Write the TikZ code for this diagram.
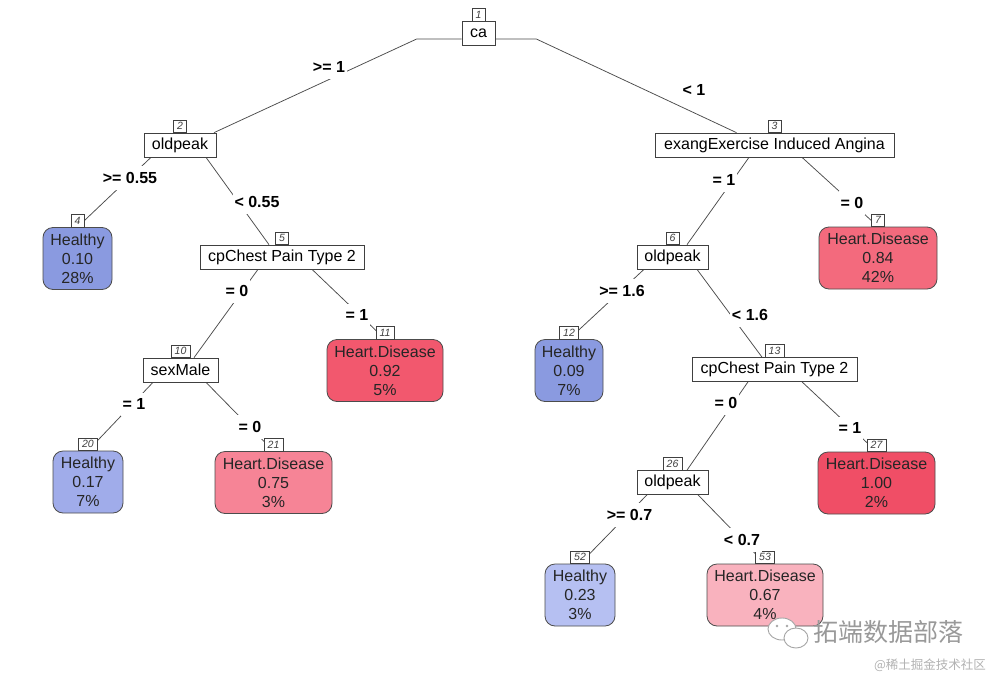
\documentclass[tikz,border=0pt]{standalone}
\usepackage{fontspec}
\setmainfont{Liberation Sans}
\newfontfamily\cjk{Noto Sans CJK SC}
\pgfdeclarelayer{bg}
\pgfsetlayers{bg,main}
\definecolor{hbA}{RGB}{138,154,224}
\definecolor{hbB}{RGB}{160,172,234}
\definecolor{hbC}{RGB}{182,192,242}
\definecolor{hdA}{RGB}{240,78,102}
\definecolor{hdB}{RGB}{242,88,110}
\definecolor{hdC}{RGB}{243,106,125}
\definecolor{hdD}{RGB}{246,132,150}
\definecolor{hdE}{RGB}{249,178,190}
\tikzset{
  splitbox/.style={draw=black!75, fill=white, line width=0.7pt, minimum height=24pt,
    inner xsep=2pt, inner ysep=0pt, font=\fontsize{16}{18}\selectfont},
  leafbox/.style={draw=black!70, rounded corners=10pt, line width=0.8pt, minimum height=62pt,
    align=center, font=\fontsize{16}{19}\selectfont, text=black!85, inner sep=0pt},
  tagbox/.style={draw=black!75, fill=white, line width=0.6pt, font=\fontsize{10.5}{11}\selectfont\itshape,
    inner xsep=3.5pt, inner ysep=0.5pt, minimum height=12.5pt, anchor=south, text=black!75},
  branch/.style={draw=black!70, line width=0.75pt},
  cond/.style={fill=white, inner xsep=2pt, inner ysep=6pt, font=\fontsize{16}{18}\selectfont\bfseries}
}
\begin{document}
\begin{tikzpicture}[x=1pt,y=-1pt]
\useasboundingbox (0,0) rectangle (991,691);
% split nodes
\node[splitbox, minimum width=33pt] (n1) at (478.5,33.5) {ca};
\node[splitbox, minimum width=72pt] (n2) at (180,145) {oldpeak};
\node[splitbox, minimum width=239pt] (n3) at (774.5,145) {exangExercise Induced Angina};
\node[splitbox, minimum width=164pt] (n5) at (282,257) {cpChest Pain Type 2};
\node[splitbox, minimum width=71pt] (n6) at (672.5,257) {oldpeak};
\node[splitbox, minimum width=75pt] (n10) at (180.5,370) {sexMale};
\node[splitbox, minimum width=165pt] (n13) at (774.5,369.5) {cpChest Pain Type 2};
\node[splitbox, minimum width=71pt] (n26) at (672.5,482.5) {oldpeak};
% leaves
\node[leafbox, fill=hbA, minimum width=69pt] (n4) at (77.5,258.5) {Healthy\\0.10\\28\%};
\node[leafbox, fill=hdC, minimum width=118pt] (n7) at (878,258) {Heart.Disease\\0.84\\42\%};
\node[leafbox, fill=hdB, minimum width=116pt] (n11) at (385,370.5) {Heart.Disease\\0.92\\5\%};
\node[leafbox, fill=hbA, minimum width=68pt] (n12) at (569,370.5) {Healthy\\0.09\\7\%};
\node[leafbox, fill=hbB, minimum width=70pt] (n20) at (88,482) {Healthy\\0.17\\7\%};
\node[leafbox, fill=hdD, minimum width=117pt] (n21) at (273.5,482.5) {Heart.Disease\\0.75\\3\%};
\node[leafbox, fill=hdA, minimum width=117pt] (n27) at (876.5,483) {Heart.Disease\\1.00\\2\%};
\node[leafbox, fill=hbC, minimum width=70pt] (n52) at (580,595) {Healthy\\0.23\\3\%};
\node[leafbox, fill=hdE, minimum width=116pt] (n53) at (765,595) {Heart.Disease\\0.67\\4\%};
% tags
\foreach \n/\t in {n1/1,n2/2,n3/3,n4/4,n5/5,n6/6,n7/7,n10/10,n11/11,n12/12,n13/13,n20/20,n21/21,n26/26,n27/27,n52/52,n53/53}
  \node[tagbox] (t\t) at (\n.north) {\t};
% branches
\begin{pgfonlayer}{bg}
\fill[white] (0,0) rectangle (991,691);
\draw[branch] ([yshift=-5.5pt]n1.west) -- ++(-45,0) -- ([xshift=34pt]n2.north);
\draw[branch] ([yshift=-5.5pt]n1.east) -- ++(41,0) -- ([xshift=-38pt]n3.north);
\draw[branch] ([xshift=-29pt]n2.south) -- (n4.north);
\draw[branch] ([xshift=26pt]n2.south) -- ([xshift=-13pt]n5.north);
\draw[branch] ([xshift=-24pt]n5.south) -- ([xshift=13.5pt]n10.north);
\draw[branch] ([xshift=30pt]n5.south) -- (n11.north);
\draw[branch] ([xshift=-27.5pt]n10.south) -- (n20.north);
\draw[branch] ([xshift=25.5pt]n10.south) -- (n21.north);
\draw[branch] ([xshift=-25.5pt]n3.south) -- ([xshift=14.5pt]n6.north);
\draw[branch] ([xshift=27.5pt]n3.south) -- (n7.north);
\draw[branch] ([xshift=-28.5pt]n6.south) -- (n12.north);
\draw[branch] ([xshift=24.5pt]n6.south) -- ([xshift=-12.5pt]n13.north);
\draw[branch] ([xshift=-26.5pt]n13.south) -- ([xshift=14.5pt]n26.north);
\draw[branch] ([xshift=27.5pt]n13.south) -- (n27.north);
\draw[branch] ([xshift=-25.5pt]n26.south) -- (n52.north);
\draw[branch] ([xshift=25.5pt]n26.south) -- (n53.north);
\end{pgfonlayer}
% split labels
\node[cond] (c2) at (329,67) {>= 1};
\node[cond] (c3) at (694,90) {< 1};
\node[cond] (c4) at (130,178) {>= 0.55};
\node[cond] (c5) at (257,202) {< 0.55};
\node[cond] (c10) at (237,291) {= 0};
\node[cond] (c11) at (357,315) {= 1};
\node[cond] (c20) at (134,404) {= 1};
\node[cond] (c21) at (250,427) {= 0};
\node[cond] (c6) at (724,180) {= 1};
\node[cond] (c7) at (852,203) {= 0};
\node[cond] (c12) at (622,291) {>= 1.6};
\node[cond] (c13) at (750,315) {< 1.6};
\node[cond] (c26) at (726,403) {= 0};
\node[cond] (c27) at (850,428) {= 1};
\node[cond] (c52) at (629.5,515) {>= 0.7};
\node[cond] (c53) at (742,540) {< 0.7};
% watermark
\draw[black!35, line width=0.9pt, fill=white] (782,629) ellipse [x radius=14pt, y radius=11pt];
\draw[black!35, line width=0.9pt, fill=white] (796,638) ellipse [x radius=12pt, y radius=10pt];
\fill[black!35] (777,626) circle[radius=1.3pt] (787,626) circle[radius=1.3pt];
\node[text=black!40, font=\cjk\fontsize{25}{25}\selectfont, inner sep=0pt] (wm) at (888,632) {拓端数据部落};
\node[text=black!30, font=\cjk\fontsize{12.5}{13}\selectfont, inner sep=0pt] (wm2) at (930,665) {@稀土掘金技术社区};
\end{tikzpicture}
\end{document}
